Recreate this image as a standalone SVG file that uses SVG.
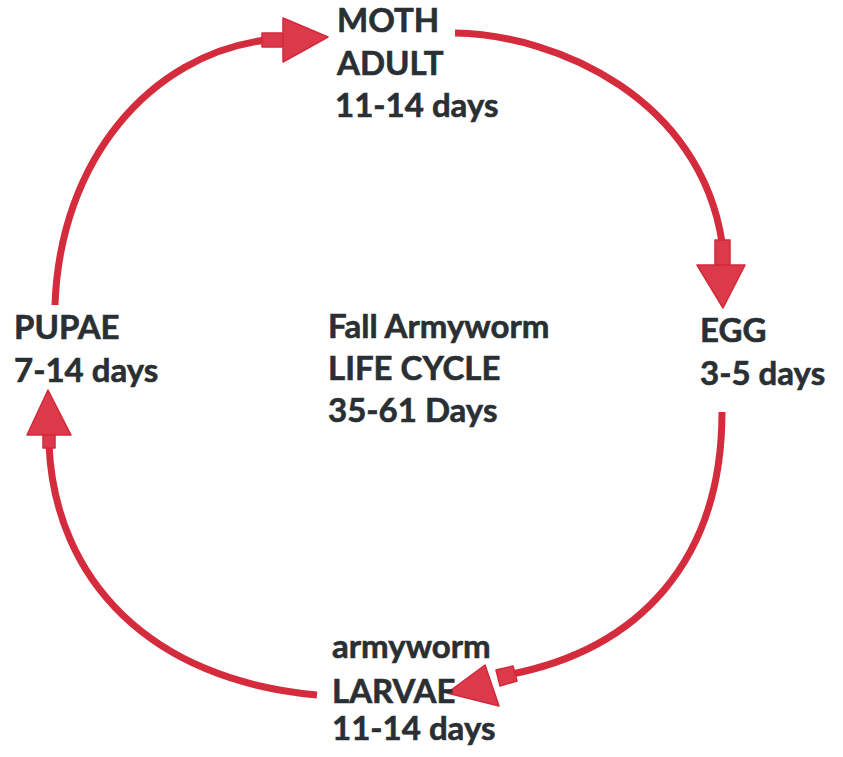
<svg xmlns="http://www.w3.org/2000/svg" width="843" height="757" viewBox="0 0 843 757">
<style>
.t{font-family:Lato,"Liberation Sans",sans-serif;font-weight:bold;font-size:33px;fill:#2a2f33;stroke:#2a2f33;stroke-width:0.6}
.arc{fill:none;stroke:#d42c3c;stroke-width:7}
.head{fill:#dc3a4a;stroke:#d22a3a;stroke-width:1.5;stroke-linejoin:round}
</style>
<rect width="843" height="757" fill="#ffffff"/>
<g id="connectors">
<path class="arc" d="M55,305 C60,160 150,55 266,40"/>
<rect class="head" x="262" y="33" width="22" height="14"/>
<polygon class="head" points="283,18 328,37 283,62"/>
<path class="arc" d="M455,33 C560,35 700,100 722,242"/>
<rect class="head" x="715" y="240" width="15" height="25"/>
<polygon class="head" points="697,265 745,265 723,308"/>
<path class="arc" d="M722,412 C722,560 640,650 507,675"/>
<polygon class="head" points="496,670 513,666 517,681 500,686"/>
<polygon class="head" points="447,693 485,665 499,706"/>
<path class="arc" d="M317,695 C150,680 55,580 49,445"/>
<rect class="head" x="43" y="433" width="12" height="15"/>
<polygon class="head" points="27,435 71,435 48,390"/>
</g>
<g id="moth"><text class="t" x="337" y="32">MOTH</text><text class="t" x="337" y="75">ADULT</text><text class="t" x="335" y="117">11-14 days</text></g>
<g id="egg"><text class="t" x="700" y="342">EGG</text><text class="t" x="700" y="385">3-5 days</text></g>
<g id="larvae"><text class="t" x="332" y="658">armyworm</text><text class="t" x="332" y="703">LARVAE</text><text class="t" x="332" y="740">11-14 days</text></g>
<g id="pupae"><text class="t" x="14" y="339">PUPAE</text><text class="t" x="14" y="382">7-14 days</text></g>
<g id="center"><text class="t" x="328" y="338">Fall Armyworm</text><text class="t" x="328" y="380">LIFE CYCLE</text><text class="t" x="328" y="422">35-61 Days</text></g>
</svg>
